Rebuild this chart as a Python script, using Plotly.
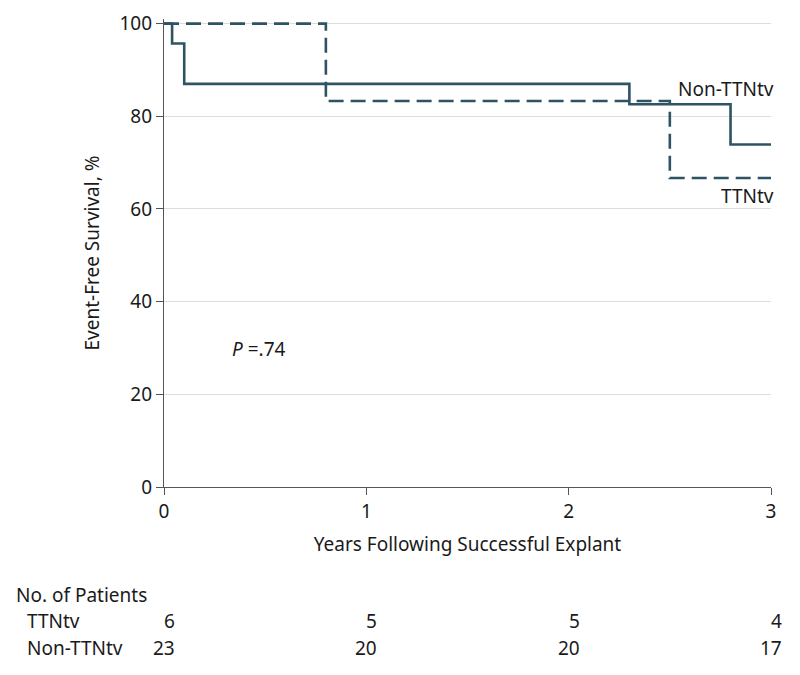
import plotly.graph_objects as go

# Kaplan-Meier step data (years, event-free survival %)
non_ttntv_years = [0, 0.04, 0.10, 2.30, 2.80, 3.0]
non_ttntv_surv = [100, 95.7, 87.0, 82.6, 73.9, 73.9]
ttntv_years = [0, 0.80, 2.50, 3.0]
ttntv_surv = [100, 83.3, 66.7, 66.7]

risk_times = [0, 1, 2, 3]
risk_ttntv = [6, 5, 5, 4]
risk_non_ttntv = [23, 20, 20, 17]

y_ticks = [0, 20, 40, 60, 80, 100]
x_ticks = [0, 1, 2, 3]

FONT = "Noto Sans, Open Sans, sans-serif"
FS = 19
LINE_COLOR = "#2e5463"
TXT = "#1a1a1a"

# page has an 8px body margin; figure is sized/offset to compensate
PLOT_TOP_PAGE = 24 - 4.63   # page y of range top (101)
PLOT_BOTTOM_PAGE = 487      # page y of 0


def py(pix):
    """page pixel y -> paper coordinate"""
    return (PLOT_BOTTOM_PAGE - pix) / (PLOT_BOTTOM_PAGE - PLOT_TOP_PAGE)


fig = go.Figure()
fig.add_trace(go.Scatter(x=ttntv_years, y=ttntv_surv, mode="lines", line_shape="hv",
                         line=dict(color=LINE_COLOR, width=2.6, dash="15px,7px"),
                         name="TTNtv", showlegend=False))
fig.add_trace(go.Scatter(x=non_ttntv_years, y=non_ttntv_surv, mode="lines", line_shape="hv",
                         line=dict(color=LINE_COLOR, width=2.6),
                         name="Non-TTNtv", showlegend=False))

f = dict(size=FS, color=TXT, family=FONT)
ann = [
    dict(x=3, xshift=5, y=86.0, xref="x", yref="y", text="Non-TTNtv", showarrow=False,
         xanchor="right", yanchor="middle", font=f),
    dict(x=3, xshift=5, y=62.8, xref="x", yref="y", text="TTNtv", showarrow=False,
         xanchor="right", yanchor="middle", font=f),
    dict(x=0.325, y=29.8, xref="x", yref="y", text="<i>P</i> =.74", showarrow=False,
         xanchor="left", yanchor="middle", font=f),
    dict(x=0, xref="paper", xshift=14 - 164, y=py(595), yref="paper", text="No. of Patients",
         showarrow=False, xanchor="left", yanchor="middle", font=f),
]
for label, vals, pix in [("TTNtv", risk_ttntv, 621), ("Non-TTNtv", risk_non_ttntv, 648)]:
    ann.append(dict(x=0, xref="paper", xshift=25 - 164, y=py(pix), yref="paper", text=label,
                    showarrow=False, xanchor="left", yanchor="middle", font=f))
    for t, v in zip(risk_times, vals):
        ann.append(dict(x=t, xref="x", xshift=13, y=py(pix), yref="paper", text=str(v),
                        showarrow=False, xanchor="right", yanchor="middle", font=f))

fig.update_layout(
    width=792, height=667,
    margin=dict(l=156, r=29, t=PLOT_TOP_PAGE - 8, b=667 - (PLOT_BOTTOM_PAGE - 8)),
    plot_bgcolor="white", paper_bgcolor="white",
    font=f,
    annotations=ann,
    xaxis=dict(range=[0, 3], tickvals=x_ticks, showgrid=False, zeroline=False,
               automargin=False,
               showline=True, linecolor="#555555", linewidth=1.2,
               ticks="outside", ticklen=7, tickcolor="#555555",
               title=dict(text="Years Following Successful Explant", standoff=14, font=f),
               tickfont=f),
    yaxis=dict(range=[0, 101], tickvals=y_ticks, showgrid=True, gridcolor="#dddddd",
               gridwidth=1.2, zeroline=False, automargin=False,
               showline=True, linecolor="#555555", linewidth=1.2,
               ticks="outside", ticklen=7, tickcolor="#555555",
               title=dict(text="Event-Free Survival, %", standoff=14, font=f),
               tickfont=f),
)

fig.write_html("out.html")
